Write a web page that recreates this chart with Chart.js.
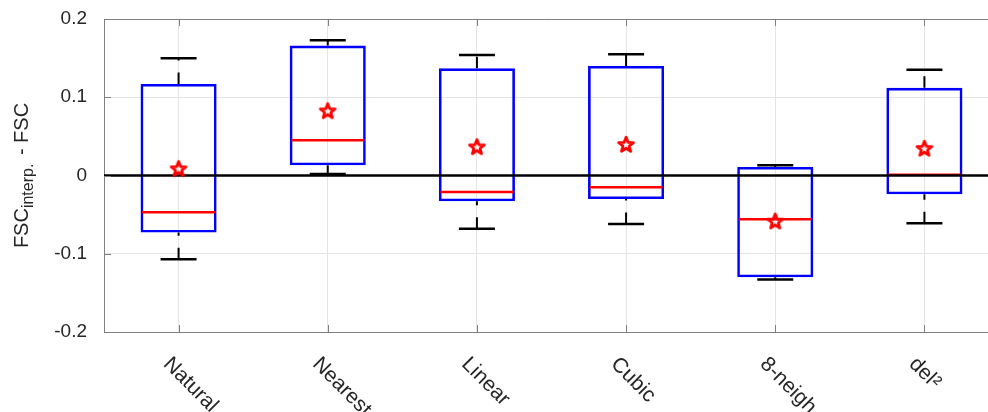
<!DOCTYPE html>
<html>
<head>
<meta charset="utf-8">
<script src="https://cdn.jsdelivr.net/npm/chart.js@4.4.1/dist/chart.umd.min.js"></script>
<style>
  html, body { margin: 0; padding: 0; background: #fff; overflow: hidden; width: 988px; height: 412px; }
  #wrap { width: 1000px; height: 412px; }
</style>
</head>
<body>
<div id="wrap"><canvas id="chart" width="1000" height="412"></canvas></div>
<script>
// Interpolation methods compared
const methods = ['Natural', 'Nearest', 'Linear', 'Cubic', '8-neigh', 'del²'];

// Box-plot statistics of FSC_interp. - FSC for each method
const whiskerHigh = [0.150, 0.173, 0.154, 0.155, 0.013, 0.135];
const upperQuartile = [0.117, 0.166, 0.137, 0.140, 0.011, 0.112];
const medians = [-0.047, 0.045, -0.021, -0.015, -0.056, 0.001];
const lowerQuartile = [-0.073, 0.013, -0.033, -0.030, -0.130, -0.024];
const whiskerLow = [-0.107, 0.002, -0.068, -0.062, -0.133, -0.061];
const means = [0.008, 0.082, 0.036, 0.039, -0.059, 0.034];

// y-axis ticks
const yTicks = [-0.2, -0.1, 0, 0.1, 0.2];
const baseline = 0;

const FONT = '"Liberation Sans", Arial, Helvetica, sans-serif';
const AXIS_GRAY = '#808080';
const GRID_GRAY = '#e4e4e4';
const TEXT = '#262626';

// hollow red pentagram used as the mean marker
function pentagram(R, lw, color) {
  const size = Math.ceil(2 * R + 3 * lw + 4);
  const cv = document.createElement('canvas');
  cv.width = size; cv.height = size;
  const g = cv.getContext('2d');
  const cx = size / 2, cy = size / 2;
  const r = R * 0.42;
  g.beginPath();
  for (let k = 0; k < 10; k++) {
    const rad = k % 2 === 0 ? R : r;
    const a = -Math.PI / 2 + k * Math.PI / 5;
    const px = cx + rad * Math.cos(a), py = cy + rad * Math.sin(a);
    if (k === 0) g.moveTo(px, py); else g.lineTo(px, py);
  }
  g.closePath();
  g.lineWidth = lw;
  g.lineJoin = 'round';
  g.strokeStyle = color;
  g.stroke();
  return cv;
}
const starMarker = pentagram(7.8, 2.8, '#ff0000');

// whisker segments: upper runs from the box to the cap, lower from the cap to the box
const upperWhiskers = [];
const lowerWhiskers = [];
methods.forEach((_, i) => {
  upperWhiskers.push({ x: i, y: upperQuartile[i] }, { x: i, y: whiskerHigh[i] }, { x: i, y: null });
  lowerWhiskers.push({ x: i, y: whiskerLow[i] }, { x: i, y: lowerQuartile[i] }, { x: i, y: null });
});

const framePlugin = {
  id: 'frame',
  afterDraw(chart) {
    const { ctx, chartArea: a, scales: { x, y } } = chart;
    ctx.save();
    // top and right edges of the axes box
    ctx.strokeStyle = AXIS_GRAY;
    ctx.lineWidth = 1;
    ctx.beginPath();
    ctx.moveTo(a.left, a.top + 0.5); ctx.lineTo(a.right, a.top + 0.5);
    ctx.moveTo(a.right - 0.5, a.top); ctx.lineTo(a.right - 0.5, a.bottom);
    // inward tick marks
    const tl = 7;
    methods.forEach((_, i) => {
      const px = Math.round(x.getPixelForValue(i)) + 0.5;
      ctx.moveTo(px, a.bottom); ctx.lineTo(px, a.bottom - tl);
      ctx.moveTo(px, a.top); ctx.lineTo(px, a.top + tl);
    });
    yTicks.forEach(v => {
      const py = Math.round(y.getPixelForValue(v)) + 0.5;
      ctx.moveTo(a.left, py); ctx.lineTo(a.left + tl, py);
      ctx.moveTo(a.right, py); ctx.lineTo(a.right - tl, py);
    });
    ctx.stroke();

    // category labels, slanted downwards
    ctx.fillStyle = TEXT;
    ctx.font = '21px ' + FONT;
    ctx.textAlign = 'left';
    ctx.textBaseline = 'middle';
    methods.forEach((m, i) => {
      const px = x.getPixelForValue(i);
      ctx.save();
      ctx.translate(px - 12, a.bottom + 29);
      ctx.rotate(Math.PI / 4);
      ctx.fillText(m, 0, 0);
      ctx.restore();
    });

    // y-axis title: FSC_interp. - FSC
    const mainFont = '20px ' + FONT;
    const subFont = '16px ' + FONT;
    const parts = [
      { t: 'FSC', f: mainFont, dy: 0, gap: 0 },
      { t: 'interp.', f: subFont, dy: 5, gap: 3 },
      { t: ' - FSC', f: mainFont, dy: 0, gap: 0 }
    ];
    let total = 0;
    parts.forEach(p => { ctx.font = p.f; p.w = ctx.measureText(p.t).width + p.gap; total += p.w; });
    ctx.save();
    ctx.translate(28, (a.top + a.bottom) / 2);
    ctx.rotate(-Math.PI / 2);
    ctx.textBaseline = 'alphabetic';
    let cx = -total / 2;
    parts.forEach(p => {
      ctx.font = p.f;
      ctx.fillText(p.t, cx, p.dy);
      cx += p.w;
    });
    ctx.restore();
    ctx.restore();
  }
};

new Chart(document.getElementById('chart'), {
  type: 'bar',
  data: {
    datasets: [
      {
        type: 'scatter',
        label: 'mean',
        data: methods.map((_, i) => ({ x: i, y: means[i] })),
        pointStyle: starMarker,
        pointRadius: 8,
        order: 0
      },
      {
        type: 'line',
        label: 'zero',
        data: [{ x: -0.5, y: baseline }, { x: 5.5, y: baseline }],
        borderColor: '#000',
        borderWidth: 2.5,
        pointRadius: 0,
        order: 1
      },
      {
        type: 'scatter',
        label: 'median',
        data: methods.map((_, i) => ({ x: i, y: medians[i] })),
        pointStyle: 'line',
        pointRadius: 36.5,
        pointBorderWidth: 2.5,
        pointBorderColor: '#ff0000',
        order: 2
      },
      {
        type: 'scatter',
        label: 'caps',
        data: methods.map((_, i) => ({ x: i, y: whiskerHigh[i] }))
          .concat(methods.map((_, i) => ({ x: i, y: whiskerLow[i] }))),
        pointStyle: 'line',
        pointRadius: 18,
        pointBorderWidth: 2.5,
        pointBorderColor: '#000',
        order: 3
      },
      {
        type: 'line',
        label: 'upper whiskers',
        data: upperWhiskers,
        borderColor: '#000',
        borderWidth: 2,
        borderDash: [11.5, 12],
        borderCapStyle: 'butt',
        pointRadius: 0,
        spanGaps: false,
        order: 4
      },
      {
        type: 'line',
        label: 'lower whiskers',
        data: lowerWhiskers,
        borderColor: '#000',
        borderWidth: 2,
        borderDash: [11.5, 12],
        borderCapStyle: 'butt',
        pointRadius: 0,
        spanGaps: false,
        order: 4
      },
      {
        type: 'bar',
        label: 'boxes',
        data: methods.map((_, i) => ({ x: i, y: [lowerQuartile[i], upperQuartile[i]] })),
        backgroundColor: 'rgba(0,0,0,0)',
        borderColor: '#0000ff',
        borderWidth: 2.6,
        borderSkipped: false,
        barPercentage: 0.51,
        categoryPercentage: 1.0,
        grouped: false,
        order: 5
      }
    ]
  },
  options: {
    responsive: false,
    animation: false,
    layout: { autoPadding: false, padding: { top: 19, right: 1, bottom: 0, left: 0 } },
    plugins: { legend: { display: false }, tooltip: { enabled: false } },
    scales: {
      x: {
        type: 'linear',
        min: -0.5,
        max: 5.5,
        offset: false,
        afterBuildTicks: s => { s.ticks = methods.map((_, i) => ({ value: i })); },
        afterFit: s => { s.height = 80; s.paddingLeft = 0; s.paddingRight = 0; },
        ticks: { display: false },
        grid: { offset: false, color: GRID_GRAY, lineWidth: 1, drawTicks: false },
        border: { display: true, color: AXIS_GRAY, width: 1 }
      },
      y: {
        min: -0.2,
        max: 0.2,
        afterBuildTicks: s => { s.ticks = yTicks.map(v => ({ value: v })); },
        afterFit: s => { s.width = 104; s.paddingTop = 0; s.paddingBottom = 0; },
        ticks: {
          padding: 17,
          color: TEXT,
          font: { family: FONT, size: 19 },
          callback: v => (Math.abs(v) < 1e-9 ? '0' : (Math.round(v * 10) / 10).toFixed(1))
        },
        grid: { color: GRID_GRAY, lineWidth: 1, drawTicks: false },
        border: { display: true, color: AXIS_GRAY, width: 1 }
      }
    }
  },
  plugins: [framePlugin]
});
</script>
</body>
</html>
